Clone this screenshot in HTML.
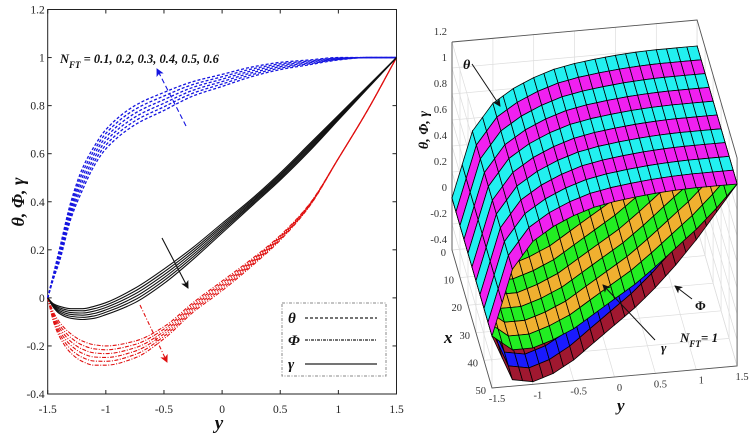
<!DOCTYPE html>
<html><head><meta charset="utf-8">
<style>
html,body{margin:0;padding:0;background:#fff;}
svg{display:block;font-family:"Liberation Serif","DejaVu Serif",serif;}
</style></head>
<body>
<svg id="fig" width="749" height="438" viewBox="0 0 749 438" xmlns="http://www.w3.org/2000/svg">
<g id="left"></g>
<g id="right"></g>
</svg>
<script>
// ---------- LEFT CHART DATA ----------
const yVals = [-1.5,-1.45,-1.4,-1.3,-1.2,-1.1,-1,-0.75,-0.5,-0.25,0,0.25,0.5,0.75,1,1.25,1.5];
const nftLabels = ["0.1","0.2","0.3","0.4","0.5","0.6"];
const theta1 = [0,0.08,0.15,0.33,0.45,0.55,0.62,0.72,0.78,0.84,0.88,0.92,0.95,0.97,0.99,1,1];
const theta2 = [0,0.084,0.16,0.344,0.468,0.566,0.636,0.736,0.795,0.852,0.89,0.928,0.956,0.974,0.992,1,1];
const theta3 = [0,0.088,0.17,0.358,0.486,0.582,0.652,0.752,0.81,0.864,0.9,0.936,0.962,0.978,0.994,1,1];
const theta4 = [0,0.092,0.18,0.372,0.504,0.598,0.668,0.768,0.825,0.876,0.91,0.944,0.968,0.982,0.996,1,1];
const theta5 = [0,0.096,0.19,0.386,0.522,0.614,0.684,0.784,0.84,0.888,0.92,0.952,0.974,0.986,0.998,1,1];
const theta6 = [0,0.1,0.2,0.4,0.54,0.63,0.7,0.8,0.855,0.9,0.93,0.96,0.98,0.99,1,1,1];
const phi1 = [0,-0.06,-0.1,-0.15,-0.18,-0.195,-0.2,-0.18,-0.12,-0.02,0.07,0.16,0.26,0.39,0.58,0.78,1];
const phi2 = [0,-0.068,-0.112,-0.166,-0.197,-0.212,-0.216,-0.194,-0.13,-0.028,0.062,0.154,0.256,0.388,0.58,0.78,1];
const phi3 = [0,-0.076,-0.124,-0.182,-0.214,-0.229,-0.232,-0.208,-0.14,-0.036,0.054,0.148,0.252,0.386,0.58,0.78,1];
const phi4 = [0,-0.084,-0.136,-0.198,-0.231,-0.246,-0.248,-0.222,-0.15,-0.044,0.046,0.142,0.248,0.384,0.58,0.78,1];
const phi5 = [0,-0.092,-0.148,-0.214,-0.248,-0.263,-0.264,-0.236,-0.16,-0.052,0.038,0.136,0.244,0.382,0.58,0.78,1];
const phi6 = [0,-0.1,-0.16,-0.23,-0.265,-0.28,-0.28,-0.25,-0.17,-0.06,0.03,0.13,0.24,0.38,0.58,0.78,1];
const gamma1 = [0,-0.025,-0.035,-0.045,-0.045,-0.035,-0.02,0.04,0.12,0.21,0.31,0.41,0.52,0.64,0.76,0.88,1];
const gamma2 = [0,-0.028,-0.041,-0.053,-0.054,-0.045,-0.03,0.028,0.108,0.2,0.302,0.404,0.514,0.634,0.756,0.878,1];
const gamma3 = [0,-0.031,-0.047,-0.061,-0.063,-0.055,-0.04,0.016,0.096,0.19,0.294,0.398,0.508,0.628,0.752,0.876,1];
const gamma4 = [0,-0.034,-0.053,-0.069,-0.072,-0.065,-0.05,0.004,0.084,0.18,0.286,0.392,0.502,0.622,0.748,0.874,1];
const gamma5 = [0,-0.037,-0.059,-0.077,-0.081,-0.075,-0.06,-0.008,0.072,0.17,0.278,0.386,0.496,0.616,0.744,0.872,1];
const gamma6 = [0,-0.04,-0.065,-0.085,-0.09,-0.085,-0.07,-0.02,0.06,0.16,0.27,0.38,0.49,0.61,0.74,0.87,1];
const xTicks = [-1.5,-1,-0.5,0,0.5,1,1.5];
const xTickLabels = ["-1.5","-1","-0.5","0","0.5","1","1.5"];
const yTicks = [-0.4,-0.2,0,0.2,0.4,0.6,0.8,1,1.2];
const yTickLabels = ["-0.4","-0.2","0","0.2","0.4","0.6","0.8","1","1.2"];

// ---------- RIGHT CHART DATA (N_FT = 1) ----------
const ySurf = [-1.5,-1.25,-1,-0.75,-0.5,-0.25,0,0.25,0.5,0.75,1,1.25,1.5];
const thetaSurf = [0,0.5,0.7,0.8,0.87,0.92,0.95,0.97,0.985,0.995,1,1,1];
const gammaSurf = [0,-0.12,-0.12,-0.07,0,0.1,0.2,0.3,0.42,0.55,0.68,0.83,1];
const phiSurf = [0,-0.35,-0.38,-0.33,-0.24,-0.12,0,0.12,0.26,0.42,0.6,0.8,1];
const zTicks3 = [-0.4,-0.2,0,0.2,0.4,0.6,0.8,1,1.2];
const zTickLabels3 = ["-0.4","-0.2","0","0.2","0.4","0.6","0.8","1","1.2"];
const xTicks3 = [0,10,20,30,40,50];
const xTickLabels3 = ["0","10","20","30","40","50"];
const yTicks3 = [-1.5,-1,-0.5,0,0.5,1,1.5];
const yTickLabels3 = ["-1.5","-1","-0.5","0","0.5","1","1.5"];

const NS="http://www.w3.org/2000/svg";
function mk(tag, attrs, parent){const e=document.createElementNS(NS,tag);for(const k in attrs)e.setAttribute(k,attrs[k]);parent.appendChild(e);return e;}

// ---------- LEFT ----------
const L=document.getElementById('left');
const X0=47.7,X1=396.5,Y0=394,Y1=9.5;
const sx=v=>X0+(v+1.5)/3*(X1-X0);
const sy=v=>Y0-(v+0.4)/1.6*(Y0-Y1);
function spline(xs,ys){
  const n=xs.length, h=[], dl=[], m=new Array(n);
  for(let i=0;i<n-1;i++){h[i]=xs[i+1]-xs[i];dl[i]=(ys[i+1]-ys[i])/h[i];}
  m[0]=dl[0];m[n-1]=dl[n-2];
  for(let i=1;i<n-1;i++){
    if(dl[i-1]*dl[i]<=0)m[i]=0;
    else{const w1=2*h[i]+h[i-1],w2=h[i]+2*h[i-1];m[i]=(w1+w2)/(w1/dl[i-1]+w2/dl[i]);}
  }
  let d='M'+sx(xs[0]).toFixed(2)+','+sy(ys[0]).toFixed(2);
  for(let i=0;i<n-1;i++){
    const c1x=xs[i]+h[i]/3,c1y=ys[i]+m[i]*h[i]/3;
    const c2x=xs[i+1]-h[i]/3,c2y=ys[i+1]-m[i+1]*h[i]/3;
    d+=' C'+sx(c1x).toFixed(2)+','+sy(c1y).toFixed(2)+' '+sx(c2x).toFixed(2)+','+sy(c2y).toFixed(2)+' '+sx(xs[i+1]).toFixed(2)+','+sy(ys[i+1]).toFixed(2);
  }
  return d;
}
let fr=mk('rect',{x:X0,y:Y1,width:X1-X0,height:Y0-Y1,fill:'#fff',stroke:'#222','stroke-width':1},L);


xTicks.forEach((t,i)=>{
  const x=sx(t);
  mk('line',{x1:x,y1:Y0,x2:x,y2:Y0-4,stroke:'#222'},L);
  mk('line',{x1:x,y1:Y1,x2:x,y2:Y1+4,stroke:'#222'},L);
  const tx=mk('text',{x:x,y:Y0+19,'font-size':11.5,'text-anchor':'middle',fill:'#222'},L);
  tx.textContent=xTickLabels[i];
  
  
});
yTicks.forEach((t,i)=>{
  const y=sy(t);
  mk('line',{x1:X0,y1:y,x2:X0+4,y2:y,stroke:'#222'},L);
  mk('line',{x1:X1,y1:y,x2:X1-4,y2:y,stroke:'#222'},L);
  const tx=mk('text',{x:X0-3,y:y+4,'font-size':11.5,'text-anchor':'end',fill:'#222'},L);
  tx.textContent=yTickLabels[i];
  
  
});
const thetas=[theta1,theta2,theta3,theta4,theta5,theta6];
const phis=[phi1,phi2,phi3,phi4,phi5,phi6];
const gammas=[gamma1,gamma2,gamma3,gamma4,gamma5,gamma6];
thetas.forEach((s,i)=>{const p=mk('path',{d:spline(yVals,s),fill:'none',stroke:'#1515e0','stroke-width':1.3,'stroke-dasharray':'3,2'},L);
  
  });
phis.forEach((s,i)=>{const p=mk('path',{d:spline(yVals,s),fill:'none',stroke:'#e01010','stroke-width':1.1,'stroke-dasharray':'4,1.5,1,1.5'},L);
  
  });
gammas.forEach((s,i)=>{const p=mk('path',{d:spline(yVals,s),fill:'none',stroke:'#111','stroke-width':1.1},L);
  
  });
// arrows
const defs=mk('defs',{},document.getElementById('fig'));
function marker(id,col){const m=mk('marker',{id:id,markerWidth:8,markerHeight:8,refX:7,refY:4,orient:'auto',markerUnits:'userSpaceOnUse'},defs);mk('path',{d:'M0,0 L8,4 L0,8 L2,4 Z',fill:col},m);}
marker('ab','#1515e0');marker('ar','#e01010');marker('ak','#111');
let a1=mk('line',{x1:186,y1:126,x2:157,y2:69,stroke:'#1515e0','stroke-width':1.1,'stroke-dasharray':'5,3','marker-end':'url(#ab)'},L);


let a2=mk('line',{x1:162,y1:238,x2:188,y2:288,stroke:'#111','stroke-width':1.1,'marker-end':'url(#ak)'},L);


let a3=mk('line',{x1:140,y1:305,x2:167,y2:362,stroke:'#e01010','stroke-width':1.1,'stroke-dasharray':'4,2,1,2','marker-end':'url(#ar)'},L);


let ann=mk('text',{x:60,y:63,'font-size':12.5,'font-weight':'bold','font-style':'italic',fill:'#111'},L);
ann.innerHTML='N<tspan font-size="9" dy="5">FT</tspan><tspan dy="-5"> = 0.1, 0.2, 0.3, 0.4, 0.5, 0.6</tspan>';


let yl=mk('text',{x:0,y:0,'font-size':18,'font-weight':'bold','font-style':'italic',transform:'translate(24,202) rotate(-90)','text-anchor':'middle',fill:'#111'},L);
yl.textContent='θ, Φ, γ';


let xl=mk('text',{x:219,y:429,'font-size':19,'font-weight':'bold','font-style':'italic','text-anchor':'middle',fill:'#111'},L);
xl.textContent='y';


// legend
const lg=mk('g',{},L);


mk('rect',{x:282,y:303,width:104,height:73,fill:'#fff',stroke:'#888','stroke-width':1,'stroke-dasharray':'3,1.5,1,1.5'},lg);
[['θ',318,'3,2','legend-entry-theta'],['Φ',340,'3,1,1,1','legend-entry-phi'],['γ',364,'','legend-entry-gamma']].forEach(e=>{
  const g=mk('g',{},lg);
  
  
  const t=mk('text',{x:288,y:e[1]+5,'font-size':15,'font-weight':'bold','font-style':'italic',fill:'#111'},g);t.textContent=e[0];
  const ln=mk('line',{x1:305,y1:e[1],x2:377,y2:e[1],stroke:'#222','stroke-width':1.3},g);
  if(e[2])ln.setAttribute('stroke-dasharray',e[2]);
});

// ---------- RIGHT ----------
const R=document.getElementById('right');
const P=(x,y,z)=>[452+x*0.8+(y+1.5)*81.7, 250+x*2.76-(y+1.5)*7.33-(z+0.4)*130];
const pt=a=>a[0].toFixed(1)+','+a[1].toFixed(1);
const grid=mk('g',{stroke:'#ddd','stroke-width':0.7,fill:'none'},R);


zTicks3.forEach(z=>{mk('polyline',{points:pt(P(50,-1.5,z))+' '+pt(P(0,-1.5,z))+' '+pt(P(0,1.5,z))+' '+pt(P(50,1.5,z))},grid);});
yTicks3.forEach(y=>{mk('polyline',{points:pt(P(50,y,-0.4))+' '+pt(P(0,y,-0.4))+' '+pt(P(0,y,1.2))},grid);});
xTicks3.forEach(x=>{mk('polyline',{points:pt(P(x,-1.5,1.2))+' '+pt(P(x,-1.5,-0.4))+' '+pt(P(x,1.5,-0.4))+' '+pt(P(x,1.5,1.2))},grid);});
const box=mk('g',{stroke:'#555','stroke-width':0.9,fill:'none'},R);


mk('polyline',{points:[P(0,-1.5,1.2),P(0,-1.5,-0.4),P(50,-1.5,-0.4),P(50,1.5,-0.4),P(50,1.5,1.2)].map(pt).join(' ')},box);
mk('polyline',{points:[P(0,-1.5,1.2),P(0,1.5,1.2),P(50,1.5,1.2)].map(pt).join(' ')},box);
function interp(arr,y){for(let i=0;i<ySurf.length-1;i++){if(y<=ySurf[i+1]+1e-9){const t=(y-ySurf[i])/(ySurf[i+1]-ySurf[i]);return arr[i]+t*(arr[i+1]-arr[i]);}}return arr[arr.length-1];}
function surface(arr,c1,c2,name){
  const g=mk('g',{stroke:'#000','stroke-width':0.8},R);
  
  
  const nx=10,ny=24;
  for(let i=0;i<nx;i++){
    const xa=i*5,xb=(i+1)*5;
    for(let j=0;j<ny;j++){
      const ya=-1.5+j*3/ny,yb=-1.5+(j+1)*3/ny;
      const za=interp(arr,ya),zb=interp(arr,yb);
      mk('polygon',{points:[P(xa,ya,za),P(xa,yb,zb),P(xb,yb,zb),P(xb,ya,za)].map(pt).join(' '),fill:i%2?c2:c1},g);
    }
  }
}
surface(phiSurf,'#1a1aff','#a01830','phi-surface');
surface(gammaSurf,'#f0b030','#22ee22','gamma-surface');
surface(thetaSurf,'#22f0f0','#f020f0','theta-surface');
zTicks3.forEach((z,i)=>{const p=P(0,-1.5,z);const t=mk('text',{x:p[0]-5,y:p[1]-7,'font-size':10.5,'text-anchor':'end',fill:'#333'},R);t.textContent=zTickLabels3[i];
  
  });
xTicks3.forEach((x,i)=>{const p=P(x,-1.5,-0.4);const t=mk('text',{x:p[0]-6,y:p[1]+6,'font-size':10.5,'text-anchor':'end',fill:'#333'},R);t.textContent=xTickLabels3[i];
  
  });
yTicks3.forEach((y,i)=>{const p=P(50,y,-0.4);const t=mk('text',{x:p[0]+5,y:p[1]+14,'font-size':10.5,'text-anchor':'middle',fill:'#333'},R);t.textContent=yTickLabels3[i];
  
  });
function lab(txt,x,y,fs,name,extra){const t=mk('text',Object.assign({x:x,y:y,'font-size':fs,'font-style':'italic','font-weight':'bold',fill:'#111'},extra||{}),R);t.textContent=txt;
  
  return t;}
lab('θ, Φ, γ',0,0,14,'z-axis-title',{transform:'translate(428,130) rotate(-90)','text-anchor':'middle'});
lab('x',444,343,17,'x3d-axis-title');
lab('y',617,411,17,'y3d-axis-title');
lab('θ',463,69,14,'theta-label');
lab('Φ',695,310,13,'phi-label',{'font-style':'normal'});
lab('γ',661,352,13,'gamma-label');
const nl=lab('',680,342,13,'nft-equals-1-label');
nl.innerHTML='N<tspan font-size="9" dy="5">FT</tspan><tspan dy="-5">= 1</tspan>';
let r1=mk('line',{x1:472,y1:64,x2:500,y2:106,stroke:'#111','stroke-width':1,'marker-end':'url(#ak)'},R);


let r2=mk('line',{x1:692,y1:299,x2:675,y2:286,stroke:'#111','stroke-width':1,'marker-end':'url(#ak)'},R);


let r3=mk('line',{x1:655,y1:340,x2:603,y2:285,stroke:'#111','stroke-width':1,'marker-end':'url(#ak)'},R);


</script>
</body></html>
